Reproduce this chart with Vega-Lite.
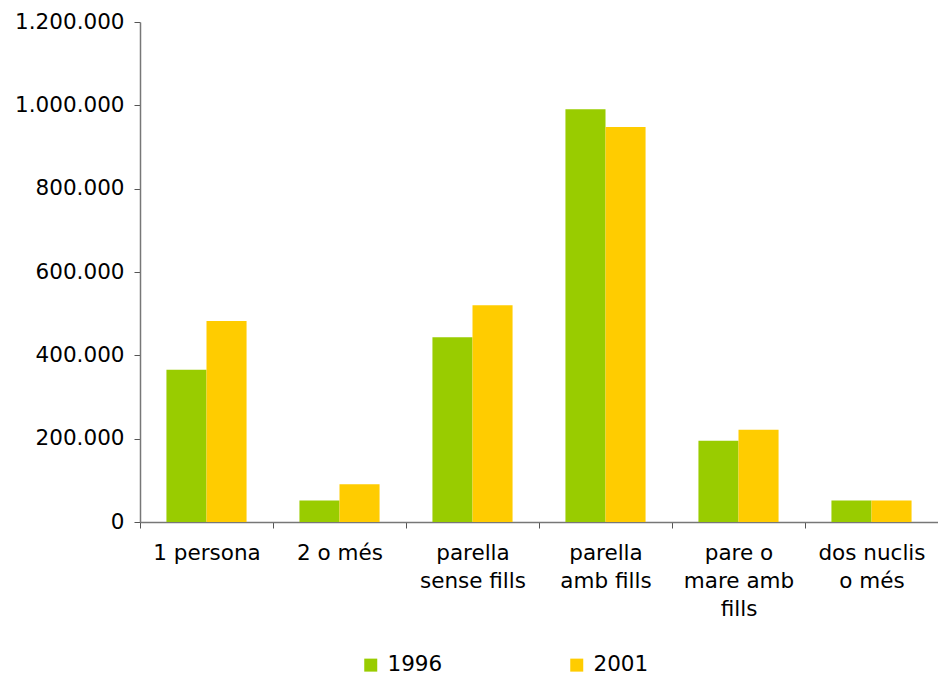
{
  "$schema": "https://vega.github.io/schema/vega-lite/v6.json",
  "autosize": "none",
  "width": 798,
  "height": 500,
  "padding": {"left": 140, "top": 22, "right": 0, "bottom": 156},
  "background": "white",
  "config": {
    "locale": {"number": {"decimal": ",", "thousands": ".", "grouping": [3], "currency": ["", " €"]}},
    "view": {"stroke": null},
    "font": "DejaVu Sans"
  },
  "data": {
    "values": [
      {"cat": "1 persona", "year": "1996", "value": 365400},
      {"cat": "1 persona", "year": "2001", "value": 482300},
      {"cat": "2 o més", "year": "1996", "value": 51900},
      {"cat": "2 o més", "year": "2001", "value": 90500},
      {"cat": "parella|sense fills", "year": "1996", "value": 443600},
      {"cat": "parella|sense fills", "year": "2001", "value": 520200},
      {"cat": "parella|amb fills", "year": "1996", "value": 990900},
      {"cat": "parella|amb fills", "year": "2001", "value": 948100},
      {"cat": "pare o|mare amb|fills", "year": "1996", "value": 195100},
      {"cat": "pare o|mare amb|fills", "year": "2001", "value": 221400},
      {"cat": "dos nuclis|o més", "year": "1996", "value": 51900},
      {"cat": "dos nuclis|o més", "year": "2001", "value": 51900}
    ]
  },
  "mark": {"type": "bar"},
  "encoding": {
    "x": {
      "field": "cat",
      "type": "nominal",
      "sort": null,
      "scale": {"paddingInner": 0, "paddingOuter": 0},
      "axis": {
        "title": null,
        "labelAngle": 0,
        "labelExpr": "split(datum.label, '|')",
        "labelFont": "DejaVu Sans",
        "labelFontSize": 21.5,
        "labelColor": "#000000",
        "labelLineHeight": 28,
        "labelPadding": 14,
        "labelLimit": 200,
        "tickBand": "extent",
        "tickSize": 6,
        "tickColor": "#555555",
        "domainColor": "#777777",
        "domainWidth": 1.5
      }
    },
    "xOffset": {
      "field": "year",
      "type": "nominal",
      "scale": {"paddingInner": 0, "paddingOuter": 0.66}
    },
    "y": {
      "field": "value",
      "type": "quantitative",
      "scale": {"domain": [0, 1200000]},
      "axis": {
        "title": null,
        "values": [0, 200000, 400000, 600000, 800000, 1000000, 1200000],
        "format": ",d",
        "grid": false,
        "labelFont": "DejaVu Sans",
        "labelFontSize": 21.5,
        "labelColor": "#000000",
        "labelPadding": 10,
        "tickSize": 6,
        "tickColor": "#555555",
        "domainColor": "#777777",
        "domainWidth": 1.5
      }
    },
    "color": {
      "field": "year",
      "type": "nominal",
      "scale": {"domain": ["1996", "2001"], "range": ["#99CC00", "#FFCC00"]},
      "legend": {
        "title": null,
        "orient": "none",
        "legendX": 220,
        "legendY": 632,
        "direction": "horizontal",
        "symbolType": "square",
        "symbolSize": 169,
        "symbolStrokeWidth": 0,
        "labelFont": "DejaVu Sans",
        "labelFontSize": 21.5,
        "labelColor": "#000000",
        "labelOffset": 6,
        "columnPadding": 123
      }
    }
  }
}
